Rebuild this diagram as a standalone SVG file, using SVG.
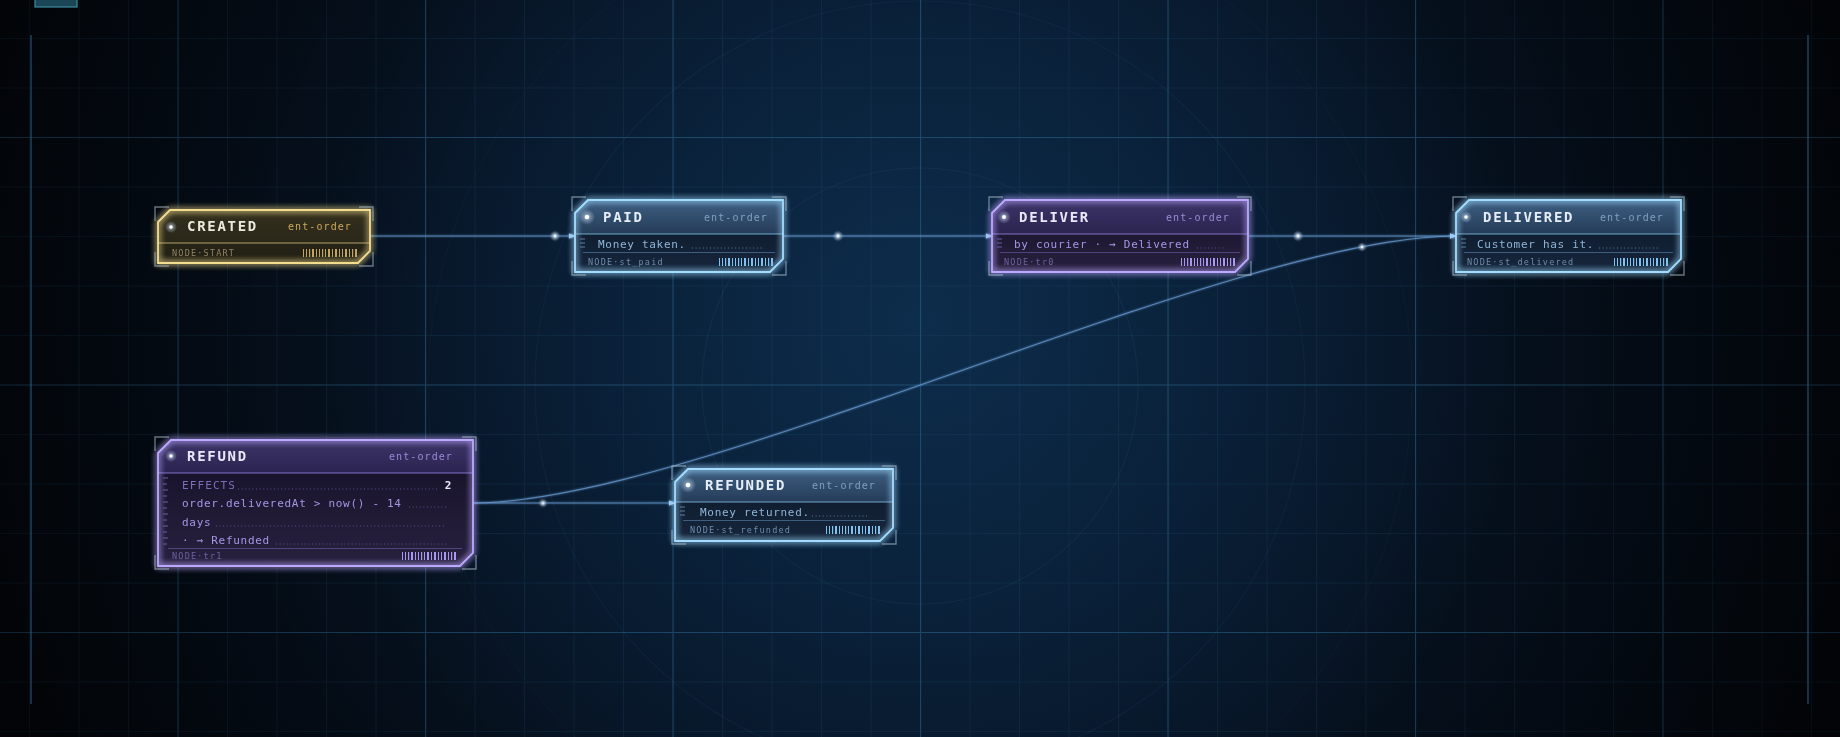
<svg xmlns="http://www.w3.org/2000/svg" xmlns:xlink="http://www.w3.org/1999/xlink" width="1840" height="737" viewBox="0 0 1840 737">
<defs>
  <radialGradient id="bg" cx="920" cy="320" r="980" gradientUnits="userSpaceOnUse">
    <stop offset="0" stop-color="#0d2d4c"/>
    <stop offset="0.3" stop-color="#0a213a"/>
    <stop offset="0.62" stop-color="#06111f"/>
    <stop offset="1" stop-color="#03070d"/>
  </radialGradient>
  <pattern id="gMinor" x="29" y="38" width="49.5" height="49.5" patternUnits="userSpaceOnUse">
    <path d="M0.5,0 V49.5 M0,0.5 H49.5" fill="none" stroke="#1f4a6c" stroke-opacity="0.24" stroke-width="1"/>
  </pattern>
  <pattern id="gMajor" x="177.5" y="137" width="247.5" height="247.5" patternUnits="userSpaceOnUse">
    <path d="M0.5,0 V247.5 M0,0.5 H247.5" fill="none" stroke="#2d6a94" stroke-opacity="0.45" stroke-width="1.2"/>
  </pattern>
  <radialGradient id="dotGlow">
    <stop offset="0" stop-color="#ffffff" stop-opacity="0.9"/>
    <stop offset="0.35" stop-color="#cfe6ff" stop-opacity="0.45"/>
    <stop offset="1" stop-color="#cfe6ff" stop-opacity="0"/>
  </radialGradient>
  <linearGradient id="hBlue" x1="0" y1="0" x2="0" y2="1">
    <stop offset="0" stop-color="#3e5f82"/>
    <stop offset="1" stop-color="#253c58"/>
  </linearGradient>
  <linearGradient id="bBlue" x1="0" y1="0" x2="0" y2="1">
    <stop offset="0" stop-color="#0c1727"/>
    <stop offset="1" stop-color="#16263c"/>
  </linearGradient>
  <linearGradient id="hPurple" x1="0" y1="0" x2="0" y2="1">
    <stop offset="0" stop-color="#3d3468"/>
    <stop offset="1" stop-color="#2b2450"/>
  </linearGradient>
  <linearGradient id="bPurple" x1="0" y1="0" x2="0" y2="1">
    <stop offset="0" stop-color="#141026"/>
    <stop offset="1" stop-color="#28213f"/>
  </linearGradient>
  <linearGradient id="hGold" x1="0" y1="0" x2="0" y2="1">
    <stop offset="0" stop-color="#34301e"/>
    <stop offset="1" stop-color="#2a2719"/>
  </linearGradient>
  <linearGradient id="bGold" x1="0" y1="0" x2="0" y2="1">
    <stop offset="0" stop-color="#2b281a"/>
    <stop offset="1" stop-color="#221f14"/>
  </linearGradient>
  <radialGradient id="vign" cx="920" cy="340" r="1100" gradientUnits="userSpaceOnUse">
    <stop offset="0.45" stop-color="#000" stop-opacity="0"/>
    <stop offset="1" stop-color="#000" stop-opacity="0.55"/>
  </radialGradient>
  <filter id="glow" x="-10%" y="-40%" width="120%" height="180%">
    <feGaussianBlur stdDeviation="3" result="b"/>
    <feMerge><feMergeNode in="b"/><feMergeNode in="b"/><feMergeNode in="SourceGraphic"/></feMerge>
  </filter>
  <filter id="soft" filterUnits="userSpaceOnUse" x="0" y="0" width="1840" height="737">
    <feGaussianBlur stdDeviation="1.3" result="b"/>
    <feMerge><feMergeNode in="b"/><feMergeNode in="SourceGraphic"/></feMerge>
  </filter>
  <marker id="arr" viewBox="0 0 8 8" refX="7" refY="4" markerWidth="7" markerHeight="7" markerUnits="userSpaceOnUse" orient="auto">
    <path d="M0,1 L8,4 L0,7 Z" fill="#9cc8f0"/>
  </marker>
  <g id="barcode">
    <rect x="0" y="0" width="1" height="8"/><rect x="3" y="0" width="1" height="8"/>
    <rect x="6" y="0" width="1.2" height="8"/><rect x="9" y="0" width="2" height="8"/>
    <rect x="13" y="0" width="1" height="8"/><rect x="16" y="0" width="1" height="8"/>
    <rect x="19" y="0" width="1.2" height="8"/><rect x="22" y="0" width="1" height="8"/>
    <rect x="25" y="0" width="2" height="8"/><rect x="29" y="0" width="1" height="8"/>
    <rect x="32" y="0" width="2" height="8"/><rect x="36" y="0" width="1" height="8"/>
    <rect x="39" y="0" width="1" height="8"/><rect x="42" y="0" width="2" height="8"/>
    <rect x="46" y="0" width="1" height="8"/><rect x="49" y="0" width="1.2" height="8"/>
    <rect x="52" y="0" width="2" height="8"/>
  </g>
  <g id="dot">
    <circle r="8" fill="url(#dotGlow)"/>
    <circle r="2.3" fill="#ffffff"/>
  </g>
</defs>
<style>
  .mono{font-family:"DejaVu Sans Mono","Liberation Mono",monospace}
  .title{font-size:14px;font-weight:700;letter-spacing:1.7px}
  .tag{font-size:10px;letter-spacing:1.1px}
  .row{font-size:11px;letter-spacing:0.7px}
  .foot{font-size:8.5px;letter-spacing:1.2px}
  .lead{fill:none;stroke-width:1;stroke-dasharray:1 2.6}
  .bracket{fill:none;stroke:#a9bacb;stroke-opacity:0.6;stroke-width:1.4}
  .border{fill:none;stroke-width:1.8}
  .div{stroke-width:1.2}
  .tick{stroke-width:1}
  .conn{fill:none;stroke:#6c9ed6;stroke-width:1.2;stroke-opacity:0.75}
  .blue .border{stroke:#a2dcff}
  .blue .div{stroke:#86c4ee;stroke-opacity:0.8}
  .blue .t{fill:#e6eef8}
  .blue .tg{fill:#7f9fc2}
  .blue .r{fill:#8fb5d8}
  .blue .f{fill:#6d8dac}
  .blue .lead{stroke:#56789a}
  .blue .rl{stroke:#4a6e92;stroke-opacity:0.8}
  .blue .tick{stroke:#5a80a4}
  .blue .bc{fill:#80c2f0}
  .purple .border{stroke:#bca8ff}
  .purple .div{stroke:#9c88e8;stroke-opacity:0.8}
  .purple .t{fill:#ece8fa}
  .purple .tg{fill:#9a89d8}
  .purple .r{fill:#a596e4}
  .purple .e{fill:#7c6eb6}
  .purple .f{fill:#6e62a2}
  .purple .lead{stroke:#5c5092}
  .purple .rl{stroke:#5a4e90;stroke-opacity:0.8}
  .purple .tick{stroke:#6a5ea6}
  .purple .bc{fill:#a898f0}
  .gold .border{stroke:#f2dc8e}
  .gold .div{stroke:#d9c27a;stroke-opacity:0.8}
  .gold .t{fill:#ece9dd}
  .gold .tg{fill:#c9a85c}
  .gold .f{fill:#8f8463}
  .gold .bc{fill:#c0a660}
</style>

<!-- background -->
<rect x="0" y="0" width="1840" height="737" fill="url(#bg)"/>
<rect x="0" y="0" width="1840" height="737" fill="url(#gMinor)"/>
<rect x="0" y="0" width="1840" height="737" fill="url(#gMajor)"/>
<g fill="none" stroke="#6aa8d8">
  <circle cx="920" cy="386" r="218" stroke-opacity="0.07" stroke-width="1.2"/>
  <circle cx="920" cy="386" r="385" stroke-opacity="0.06" stroke-width="1.2"/>
  <circle cx="920" cy="386" r="492" stroke-opacity="0.04" stroke-width="1"/>
</g>
<rect x="0" y="0" width="1840" height="737" fill="url(#vign)"/>
<line x1="31" y1="35" x2="31" y2="704" stroke="#2e6384" stroke-opacity="0.75" stroke-width="1.3"/>
<line x1="1808" y1="35" x2="1808" y2="704" stroke="#2e6384" stroke-opacity="0.75" stroke-width="1.3"/>
<rect x="35" y="-1" width="42" height="8" fill="#1b4655" stroke="#3d8c9e" stroke-width="1.2"/>

<!-- connectors -->
<g id="connectors" filter="url(#soft)">
  <path class="conn" d="M370,236 H575" stroke="#a0b8cc" marker-end="url(#arr)"/>
  <path class="conn" d="M783,236 H992" marker-end="url(#arr)"/>
  <path class="conn" d="M1248,236 H1456" marker-end="url(#arr)"/>
  <path class="conn" d="M473,503 H675" marker-end="url(#arr)"/>
  <path class="conn" d="M473,503 C698,503 1231,236 1456,236" stroke="#7896d0" marker-end="url(#arr)"/>
  <g opacity="0.85">
    <use href="#dot" transform="translate(555,236) scale(0.65)"/>
    <use href="#dot" transform="translate(838,236) scale(0.65)"/>
    <use href="#dot" transform="translate(1298,236) scale(0.65)"/>
    <use href="#dot" transform="translate(543,503) scale(0.55)"/>
    <use href="#dot" transform="translate(1362,247) scale(0.55)"/>
  </g>
</g>

<!-- CREATED -->
<g id="node-created" class="gold mono">
  <path d="M158,222 L170,210 H370 V251 L358,263 H158 Z" fill="url(#bGold)"/>
  <path d="M158,222 L170,210 H370 V243 H158 Z" fill="url(#hGold)"/>
  <line class="div" x1="158" y1="243" x2="370" y2="243"/>
  <path class="border" d="M158,222 L170,210 H370 V251 L358,263 H158 Z" filter="url(#glow)"/>
  <path class="bracket" d="M155,221 V207 H169 M359,207 H373 V221 M155,252 V266 H169 M373,252 V266 H359"/>
  <use href="#dot" transform="translate(171,227) scale(0.75)"/>
  <text class="title t" x="187" y="231">CREATED</text>
  <text class="tag tg" x="352" y="230" text-anchor="end">ent-order</text>
  <text class="foot f" x="172" y="256">NODE·START</text>
  <use href="#barcode" class="bc" x="303" y="249"/>
</g>

<!-- PAID -->
<g id="node-paid" class="blue mono">
  <path d="M575,213 L588,200 H783 V259 L770,272 H575 Z" fill="url(#bBlue)"/>
  <path d="M575,213 L588,200 H783 V234 H575 Z" fill="url(#hBlue)"/>
  <line class="div" x1="575" y1="234" x2="783" y2="234"/>
  <path class="border" d="M575,213 L588,200 H783 V259 L770,272 H575 Z" filter="url(#glow)"/>
  <path class="bracket" d="M572,211 V197 H586 M772,197 H786 V211 M572,261 V275 H586 M786,261 V275 H772"/>
  <path class="tick" d="M580,239 H585 M580,243 H585 M580,247 H585"/>
  <use href="#dot" transform="translate(587,217)"/>
  <text class="title t" x="603" y="222">PAID</text>
  <text class="tag tg" x="768" y="221" text-anchor="end">ent-order</text>
  <text class="row r" x="598" y="248">Money taken.</text>
  <line class="lead" x1="692" y1="248" x2="764" y2="248"/>
  <line class="rl" x1="583" y1="252.5" x2="775" y2="252.5"/>
  <text class="foot f" x="588" y="265">NODE·st_paid</text>
  <use href="#barcode" class="bc" x="719" y="258"/>
</g>

<!-- DELIVER -->
<g id="node-deliver" class="purple mono">
  <path d="M992,213 L1005,200 H1248 V259 L1235,272 H992 Z" fill="url(#bPurple)"/>
  <path d="M992,213 L1005,200 H1248 V234 H992 Z" fill="url(#hPurple)"/>
  <line class="div" x1="992" y1="234" x2="1248" y2="234"/>
  <path class="border" d="M992,213 L1005,200 H1248 V259 L1235,272 H992 Z" filter="url(#glow)"/>
  <path class="bracket" d="M989,211 V197 H1003 M1237,197 H1251 V211 M989,261 V275 H1003 M1251,261 V275 H1237"/>
  <path class="tick" d="M997,239 H1002 M997,243 H1002 M997,247 H1002"/>
  <use href="#dot" transform="translate(1004,217) scale(0.85)"/>
  <text class="title t" x="1019" y="222">DELIVER</text>
  <text class="tag tg" x="1230" y="221" text-anchor="end">ent-order</text>
  <text class="row r" x="1014" y="248">by courier · → Delivered</text>
  <line class="lead" x1="1197" y1="248" x2="1226" y2="248"/>
  <line class="rl" x1="1000" y1="252.5" x2="1240" y2="252.5"/>
  <text class="foot f" x="1004" y="265">NODE·tr0</text>
  <use href="#barcode" class="bc" x="1181" y="258"/>
</g>

<!-- DELIVERED -->
<g id="node-delivered" class="blue mono">
  <path d="M1456,213 L1469,200 H1681 V259 L1668,272 H1456 Z" fill="url(#bBlue)"/>
  <path d="M1456,213 L1469,200 H1681 V234 H1456 Z" fill="url(#hBlue)"/>
  <line class="div" x1="1456" y1="234" x2="1681" y2="234"/>
  <path class="border" d="M1456,213 L1469,200 H1681 V259 L1668,272 H1456 Z" filter="url(#glow)"/>
  <path class="bracket" d="M1453,211 V197 H1467 M1670,197 H1684 V211 M1453,261 V275 H1467 M1684,261 V275 H1670"/>
  <path class="tick" d="M1461,239 H1466 M1461,243 H1466 M1461,247 H1466"/>
  <use href="#dot" transform="translate(1466,217) scale(0.75)"/>
  <text class="title t" x="1483" y="222">DELIVERED</text>
  <text class="tag tg" x="1664" y="221" text-anchor="end">ent-order</text>
  <text class="row r" x="1477" y="248">Customer has it.</text>
  <line class="lead" x1="1599" y1="248" x2="1659" y2="248"/>
  <line class="rl" x1="1464" y1="252.5" x2="1673" y2="252.5"/>
  <text class="foot f" x="1467" y="265">NODE·st_delivered</text>
  <use href="#barcode" class="bc" x="1614" y="258"/>
</g>

<!-- REFUND -->
<g id="node-refund" class="purple mono">
  <path d="M158,453 L171,440 H473 V553 L460,566 H158 Z" fill="url(#bPurple)"/>
  <path d="M158,453 L171,440 H473 V473 H158 Z" fill="url(#hPurple)"/>
  <line class="div" x1="158" y1="473" x2="473" y2="473"/>
  <path class="border" d="M158,453 L171,440 H473 V553 L460,566 H158 Z" filter="url(#glow)"/>
  <path class="bracket" d="M155,451 V437 H169 M462,437 H476 V451 M155,555 V569 H169 M476,555 V569 H462"/>
  <path class="tick" d="M163,478 H168 M163,484 H167 M163,490 H168 M163,496 H167 M163,502 H168 M163,508 H167 M163,514 H168 M163,520 H167 M163,526 H168 M163,532 H167 M163,538 H168 M163,544 H167"/>
  <use href="#dot" transform="translate(171,456) scale(0.75)"/>
  <text class="title t" x="187" y="461">REFUND</text>
  <text class="tag tg" x="453" y="460" text-anchor="end">ent-order</text>
  <text class="row e" x="182" y="489" style="letter-spacing:1.1px">EFFECTS</text>
  <line class="lead" x1="238" y1="489" x2="438" y2="489"/>
  <text class="row t" x="452" y="489" text-anchor="end" font-weight="700">2</text>
  <text class="row r" x="182" y="507">order.deliveredAt &gt; now() - 14</text>
  <line class="lead" x1="409" y1="507" x2="446" y2="507"/>
  <text class="row r" x="182" y="526">days</text>
  <line class="lead" x1="216" y1="526" x2="446" y2="526"/>
  <text class="row r" x="182" y="544">· → Refunded</text>
  <line class="lead" x1="276" y1="544" x2="446" y2="544"/>
  <line class="rl" x1="168" y1="548.5" x2="462" y2="548.5"/>
  <text class="foot f" x="172" y="559">NODE·tr1</text>
  <use href="#barcode" class="bc" x="402" y="552"/>
</g>

<!-- REFUNDED -->
<g id="node-refunded" class="blue mono">
  <path d="M675,482 L688,469 H893 V528 L880,541 H675 Z" fill="url(#bBlue)"/>
  <path d="M675,482 L688,469 H893 V502 H675 Z" fill="url(#hBlue)"/>
  <line class="div" x1="675" y1="502" x2="893" y2="502"/>
  <path class="border" d="M675,482 L688,469 H893 V528 L880,541 H675 Z" filter="url(#glow)"/>
  <path class="bracket" d="M672,480 V466 H686 M882,466 H896 V480 M672,530 V544 H686 M896,530 V544 H882"/>
  <path class="tick" d="M680,507 H685 M680,511 H685 M680,515 H685"/>
  <use href="#dot" transform="translate(688,485)"/>
  <text class="title t" x="705" y="490">REFUNDED</text>
  <text class="tag tg" x="876" y="489" text-anchor="end">ent-order</text>
  <text class="row r" x="700" y="516">Money returned.</text>
  <line class="lead" x1="812" y1="516" x2="869" y2="516"/>
  <line class="rl" x1="683" y1="520.5" x2="885" y2="520.5"/>
  <text class="foot f" x="690" y="533">NODE·st_refunded</text>
  <use href="#barcode" class="bc" x="826" y="526"/>
</g>
</svg>
